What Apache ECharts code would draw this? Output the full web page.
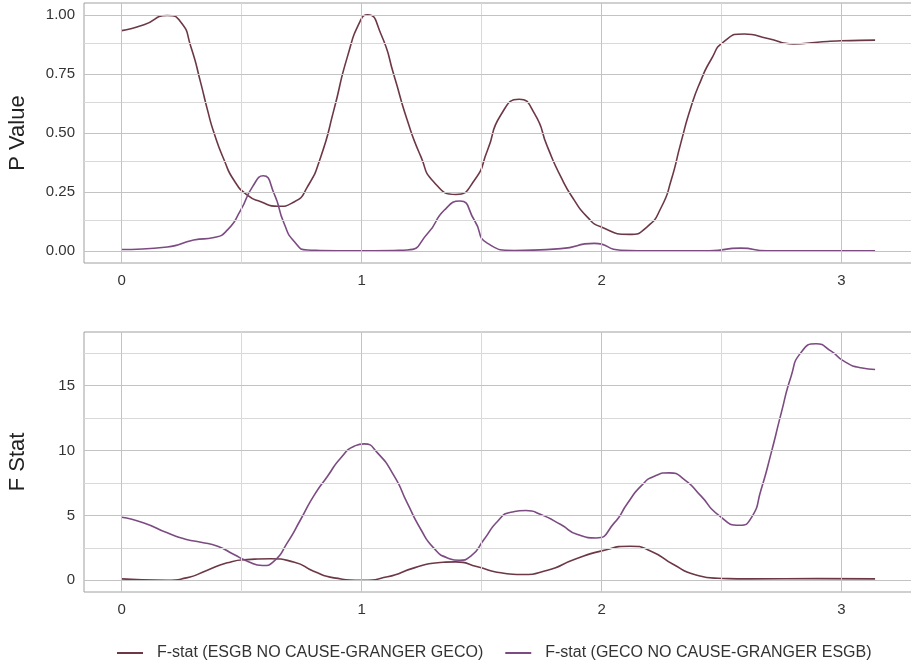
<!DOCTYPE html>
<html><head><meta charset="utf-8">
<script src="https://cdn.jsdelivr.net/npm/echarts@6/dist/echarts.min.js"></script>
<style>html,body{margin:0;padding:0;background:#fff}#c{width:911px;height:665px}</style>
</head><body><div id="c"></div>
<script>
// ---- Data ----
const seriesNames = ['F-stat (ESGB NO CAUSE-GRANGER GECO)', 'F-stat (GECO NO CAUSE-GRANGER ESGB)'];

// Top panel: P Value
const pvEsgbX = [0, 0.093, 0.19, 0.246, 0.288, 0.33, 0.357, 0.385, 0.427, 0.468, 0.524, 0.58, 0.649, 0.72, 0.774, 0.83, 0.885, 0.94, 0.997, 1.025, 1.08, 1.136, 1.19, 1.247, 1.30, 1.393, 1.47, 1.525, 1.58, 1.657, 1.72, 1.775, 1.83, 1.886, 1.94, 1.997, 2.115, 2.19, 2.25, 2.29, 2.33, 2.373, 2.415, 2.456, 2.51, 2.595, 2.693, 2.80, 2.90, 2.998, 3.14];
const pvEsgbY = [0.933, 0.958, 0.997, 0.97, 0.866, 0.71, 0.60, 0.50, 0.386, 0.30, 0.237, 0.209, 0.19, 0.209, 0.272, 0.40, 0.60, 0.82, 0.98, 1.0, 0.92, 0.74, 0.555, 0.40, 0.294, 0.24, 0.30, 0.428, 0.576, 0.643, 0.583, 0.44, 0.315, 0.216, 0.145, 0.103, 0.071, 0.103, 0.188, 0.30, 0.456, 0.611, 0.725, 0.81, 0.887, 0.919, 0.90, 0.877, 0.884, 0.89, 0.893];
const pvGecoX = [0, 0.19, 0.30, 0.385, 0.44, 0.496, 0.545, 0.59, 0.635, 0.677, 0.72, 0.774, 0.9, 1.05, 1.19, 1.275, 1.345, 1.41, 1.47, 1.525, 1.636, 1.83, 1.97, 2.08, 2.2, 2.45, 2.58, 2.69, 2.9, 3.14];
const pvGecoY = [0.007, 0.018, 0.047, 0.058, 0.089, 0.174, 0.272, 0.319, 0.244, 0.117, 0.04, 0.005, 0.002, 0.002, 0.005, 0.075, 0.174, 0.212, 0.131, 0.033, 0.003, 0.011, 0.033, 0.004, 0.002, 0.002, 0.013, 0.002, 0.002, 0.002];

// Bottom panel: F Stat
const fsEsgbX = [0, 0.19, 0.27, 0.357, 0.44, 0.524, 0.62, 0.72, 0.80, 0.885, 0.997, 1.108, 1.219, 1.316, 1.393, 1.483, 1.58, 1.664, 1.775, 1.886, 1.997, 2.12, 2.206, 2.30, 2.387, 2.485, 2.62, 2.9, 3.14];
const fsEsgbY = [0.10, 0.0, 0.18, 0.77, 1.34, 1.59, 1.65, 1.39, 0.69, 0.18, 0.0, 0.26, 0.95, 1.34, 1.41, 1.03, 0.57, 0.44, 0.77, 1.59, 2.24, 2.62, 2.24, 1.21, 0.44, 0.15, 0.10, 0.12, 0.10];
const fsGecoX = [0, 0.093, 0.19, 0.27, 0.33, 0.40, 0.468, 0.524, 0.587, 0.635, 0.69, 0.746, 0.80, 0.858, 0.913, 0.969, 1.01, 1.066, 1.136, 1.19, 1.247, 1.30, 1.358, 1.407, 1.455, 1.51, 1.567, 1.622, 1.685, 1.747, 1.83, 1.90, 1.977, 2.053, 2.109, 2.164, 2.22, 2.283, 2.345, 2.415, 2.485, 2.575, 2.624, 2.665, 2.707, 2.749, 2.79, 2.83, 2.894, 2.957, 3.01, 3.08, 3.14];
const fsGecoY = [4.86, 4.42, 3.65, 3.14, 2.93, 2.62, 1.98, 1.47, 1.13, 1.47, 2.88, 4.68, 6.48, 8.02, 9.43, 10.33, 10.51, 9.82, 8.02, 5.96, 3.91, 2.49, 1.72, 1.54, 1.85, 3.14, 4.55, 5.24, 5.37, 5.06, 4.29, 3.52, 3.26, 4.42, 5.96, 7.25, 8.02, 8.28, 7.76, 6.48, 5.06, 4.24, 4.81, 6.99, 9.82, 12.9, 15.73, 17.53, 18.23, 17.66, 16.89, 16.38, 16.25];

// Ticks and grid lines
const xTicks = [0, 1, 2, 3];
const xMinor = [0.5, 1.5, 2.5];
const pvTicks = [0, 0.25, 0.5, 0.75, 1];
const pvMinor = [0.125, 0.375, 0.625, 0.875];
const fsTicks = [0, 5, 10, 15];
const fsMinor = [2.5, 7.5, 12.5, 17.5];

// ---- Chart ----
const FONT = 'Liberation Sans';
const colEsgb = '#6d3846';
const colGeco = '#7b4b82';
const majorCol = '#c3c3c3';
const minorCol = '#d9d9d9';

function zip(xs, ys) { return xs.map((x, i) => [x, ys[i]]); }
function gridLines(xMaj, xMin, yMaj, yMin) {
  const d = [];
  xMin.forEach(v => d.push({ xAxis: v, lineStyle: { color: minorCol, width: 1, type: 'solid' } }));
  yMin.forEach(v => d.push({ yAxis: v, lineStyle: { color: minorCol, width: 1, type: 'solid' } }));
  xMaj.forEach(v => d.push({ xAxis: v, lineStyle: { color: majorCol, width: 1, type: 'solid' } }));
  yMaj.forEach(v => d.push({ yAxis: v, lineStyle: { color: majorCol, width: 1, type: 'solid' } }));
  return d;
}
function xAxisCfg(idx) {
  return {
    gridIndex: idx, type: 'value', min: -0.157, max: 3.298,
    splitLine: { show: false }, axisLine: { show: false },
    axisTick: { show: true, length: 4, customValues: xTicks, lineStyle: { color: '#8a8a8a' } },
    axisLabel: { customValues: xTicks, fontSize: 15, color: '#333', fontFamily: FONT, margin: 10,
      formatter: v => (xTicks.indexOf(v) >= 0 ? String(v) : '') }
  };
}
function yAxisCfg(idx, name, min, max, ticks, fmt) {
  return {
    gridIndex: idx, type: 'value', min: min, max: max, name: name,
    nameLocation: 'middle', nameRotate: 90, nameGap: 55,
    nameTextStyle: { fontSize: 22, color: '#222', fontFamily: FONT },
    splitLine: { show: false }, axisLine: { show: false },
    axisTick: { show: true, length: 4, customValues: ticks, lineStyle: { color: '#8a8a8a' } },
    axisLabel: { customValues: ticks, fontSize: 15, color: '#333', fontFamily: FONT, margin: 9,
      formatter: v => (ticks.indexOf(v) >= 0 ? fmt(v) : '') }
  };
}
function lineSeries(name, color, xi, data) {
  return {
    name: name, type: 'line', xAxisIndex: xi, yAxisIndex: xi, data: data,
    smooth: 0.6, showSymbol: false, symbol: 'none', z: 3,
    lineStyle: { color: color, width: 1.6 }, itemStyle: { color: color }
  };
}
function gridSeries(xi, yMaj, yMin) {
  return {
    name: '_grid' + xi, type: 'line', xAxisIndex: xi, yAxisIndex: xi, data: [], z: 1, silent: true,
    markLine: { silent: true, symbol: ['none', 'none'], label: { show: false }, animation: false,
      data: gridLines(xTicks, xMinor, yMaj, yMin) }
  };
}

const chart = echarts.init(document.getElementById('c'), null, { renderer: 'canvas' });
chart.setOption({
  animation: false,
  backgroundColor: '#ffffff',
  grid: [
    { left: 84, top: 3, width: 829, height: 260, show: true, borderColor: '#a0a0a0', borderWidth: 1, backgroundColor: 'transparent', containLabel: false, outerBoundsMode: 'none' },
    { left: 84, top: 332, width: 829, height: 260, show: true, borderColor: '#a0a0a0', borderWidth: 1, backgroundColor: 'transparent', containLabel: false, outerBoundsMode: 'none' }
  ],
  xAxis: [xAxisCfg(0), xAxisCfg(1)],
  yAxis: [
    yAxisCfg(0, 'P Value', -0.05, 1.05, pvTicks, v => v.toFixed(2)),
    yAxisCfg(1, 'F Stat', -0.91, 19.14, fsTicks, v => String(v))
  ],
  legend: {
    data: seriesNames, top: 640, left: 112, icon: 'rect', itemWidth: 26, itemHeight: 2, itemGap: 22,
    textStyle: { fontSize: 16, color: '#333', fontFamily: FONT, padding: [0, 0, 0, 9] }
  },
  series: [
    gridSeries(0, pvTicks, pvMinor),
    gridSeries(1, fsTicks, fsMinor),
    lineSeries(seriesNames[0], colEsgb, 0, zip(pvEsgbX, pvEsgbY)),
    lineSeries(seriesNames[1], colGeco, 0, zip(pvGecoX, pvGecoY)),
    lineSeries(seriesNames[0], colEsgb, 1, zip(fsEsgbX, fsEsgbY)),
    lineSeries(seriesNames[1], colGeco, 1, zip(fsGecoX, fsGecoY))
  ]
});
</script></body></html>
